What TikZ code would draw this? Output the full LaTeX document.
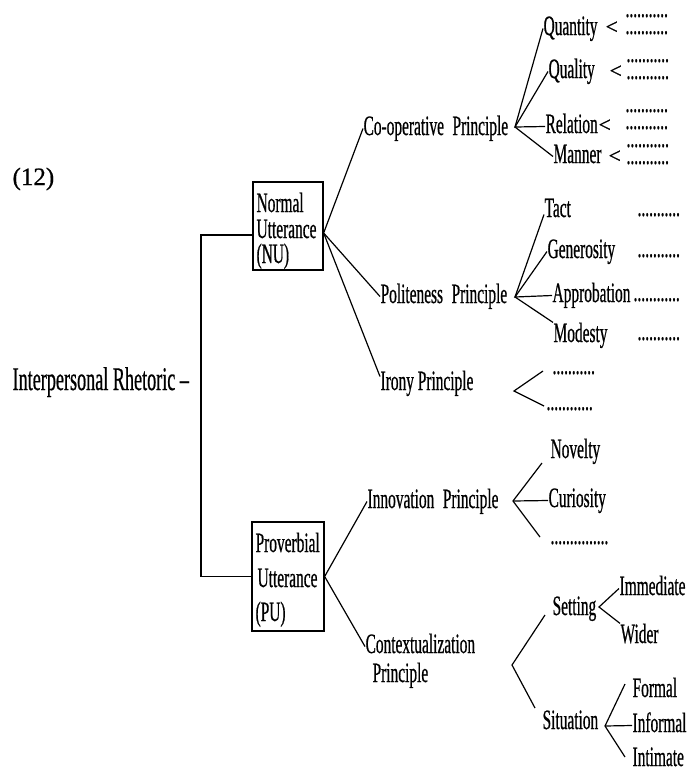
\documentclass[tikz,border=0pt]{standalone}
\usepackage{fontspec}
\setmainfont{Liberation Serif}[FakeStretch=0.55,FakeBold=0.6]
\newfontfamily\ltfont{Liberation Serif}[FakeBold=0.6]
\usetikzlibrary{calc}
\begin{document}
\begin{tikzpicture}[x=1pt,y=-1pt,line width=1.2pt,
  lab/.style={inner sep=0pt,anchor=base west,text height=19pt,text depth=6pt,font=\fontsize{28}{30}\selectfont},
  big/.style={lab,font=\fontsize{33}{34}\selectfont},
  dotrow/.style={lab,text height=3pt,text depth=0pt},
  lt/.style={inner sep=0pt,anchor=base west,font=\ltfont\fontsize{22}{24}\selectfont},
  box/.style={draw,line width=1.3pt,inner sep=0pt}]
\useasboundingbox (0,0) rectangle (691,769);
\fill[white] (0,0) rectangle (691,769);

% root
\node[lt,font=\ltfont\fontsize{25}{26}\selectfont] (num) at (12,185) {(12)};
\node[big] (ir) at (12,390) {Interpersonal Rhetoric –};

% boxes
\node[box,minimum width=70pt,minimum height=88pt] (nu) at (288,226) {};
\node[lab] (nu1) at (256,212) {Normal};
\node[lab] (nu2) at (256,238) {Utterance};
\node[lab] (nu3) at (256,263) {(NU)};
\node[box,minimum width=72pt,minimum height=109pt] (pu) at (288,576.5) {};
\node[lab] (pu1) at (255,552) {Proverbial};
\node[lab] (pu2) at (257,587) {Utterance};
\node[lab] (pu3) at (255,621) {(PU)};

\coordinate (trunk) at (201,380);
\draw ($(nu.west)+(0,9)$) -| (trunk) |- (pu.west);

% principles under NU
\node[lab] (coop) at (363,135) {Co-operative\ \,Principle};
\node[lab] (polite) at (380,303) {Politeness\ \,Principle};
\node[lab] (irony) at (380,390) {Irony\ Principle};
\coordinate (nuf) at ($(nu.east)+(0,7)$);
\draw (coop.west) -- (nuf) -- (polite.west);
\draw (nuf) -- ($(irony.west)+(0,-7)$);

% co-operative maxims
\node[lab] (quant) at (543,35) {Quantity};
\node[lab] (qual) at (548,78) {Quality};
\node[lab] (rel) at (545,133) {Relation};
\node[lab] (man) at (553,163) {Manner};
\coordinate (cf) at (515,127);
\draw (quant.west) -- (cf) -- (man.west);
\draw (qual.west) -- (cf) -- (rel.west);
\node[lt] (quantlt) at (605,34) {<};
\node[lt] (quallt) at (609,78) {<};
\node[lt] (rellt) at (598,132) {<};
\node[lt] (manlt) at (608,163) {<};
\node[dotrow] (quantd1) at (625,17) {...........};
\node[dotrow] (quantd2) at (625,34) {...........};
\node[dotrow] (quald1) at (626,62) {...........};
\node[dotrow] (quald2) at (626,79) {...........};
\node[dotrow] (reld1) at (625,112) {...........};
\node[dotrow] (reld2) at (625,129) {...........};
\node[dotrow] (mand1) at (626,147) {...........};
\node[dotrow] (mand2) at (626,164) {...........};

% politeness maxims
\node[lab] (tact) at (544,217) {Tact};
\node[lab] (gen) at (547,258) {Generosity};
\node[lab] (appr) at (552,302) {Approbation};
\node[lab] (mod) at (553,342) {Modesty};
\coordinate (pf) at (515,297);
\draw ($(tact.west)+(0,4)$) -- (pf) -- (mod.north west);
\draw (gen.west) -- (pf) -- (appr.west);
\node[dotrow] (tactd) at (637,216) {...........};
\node[dotrow] (gend) at (637,257) {...........};
\node[dotrow] (apprd) at (633,301) {............};
\node[dotrow] (modd) at (637,340) {...........};

% irony
\coordinate (irv) at (514,391);
\coordinate (iru) at (543,371);
\coordinate (irl) at (544,406);
\draw (iru) -- (irv) -- (irl);
\node[dotrow] (ird1) at (552,374) {...........};
\node[dotrow] (ird2) at (546,410) {............};

% principles under PU
\node[lab] (innov) at (367,508) {Innovation\ \,Principle};
\node[lab] (context) at (365,653) {Contextualization};
\node[lab] (context2) at (372,682) {Principle};
\draw (innov.west) -- (pu.east) -- (context.west);

% innovation
\node[lab] (nov) at (550,458) {Novelty};
\node[lab] (cur) at (548,507) {Curiosity};
\node[dotrow] (innd) at (550,544) {...............};
\coordinate (inv) at (513,501);
\coordinate (inu) at (542,463);
\coordinate (inl) at (540,537);
\draw (inu) -- (inv) -- (inl);
\draw (inv) -- (cur.west);

% contextualization
\node[lab] (set) at (552,615) {Setting};
\node[lab] (sit) at (542,729) {Situation};
\coordinate (cxv) at (512,665);
\coordinate (cxu) at (545,615);
\coordinate (cxl) at (535,708);
\draw (cxu) -- (cxv) -- (cxl);

\node[lab] (imm) at (619,595) {Immediate};
\node[lab] (wid) at (620,643) {Wider};
\coordinate (sv) at (599,607);
\draw (imm.west) -- (sv) -- (wid.north west);

\node[lab] (form) at (632,697) {Formal};
\node[lab] (inf) at (632,732) {Informal};
\node[lab,text depth=1pt] (inti) at (632,766) {Intimate};
\coordinate (stv) at (605,726);
\coordinate (stu) at (625,684);
\coordinate (stl) at (625,757);
\draw (stu) -- (stv) -- (stl);
\draw (stv) -- (inf.west);
\end{tikzpicture}
\end{document}
